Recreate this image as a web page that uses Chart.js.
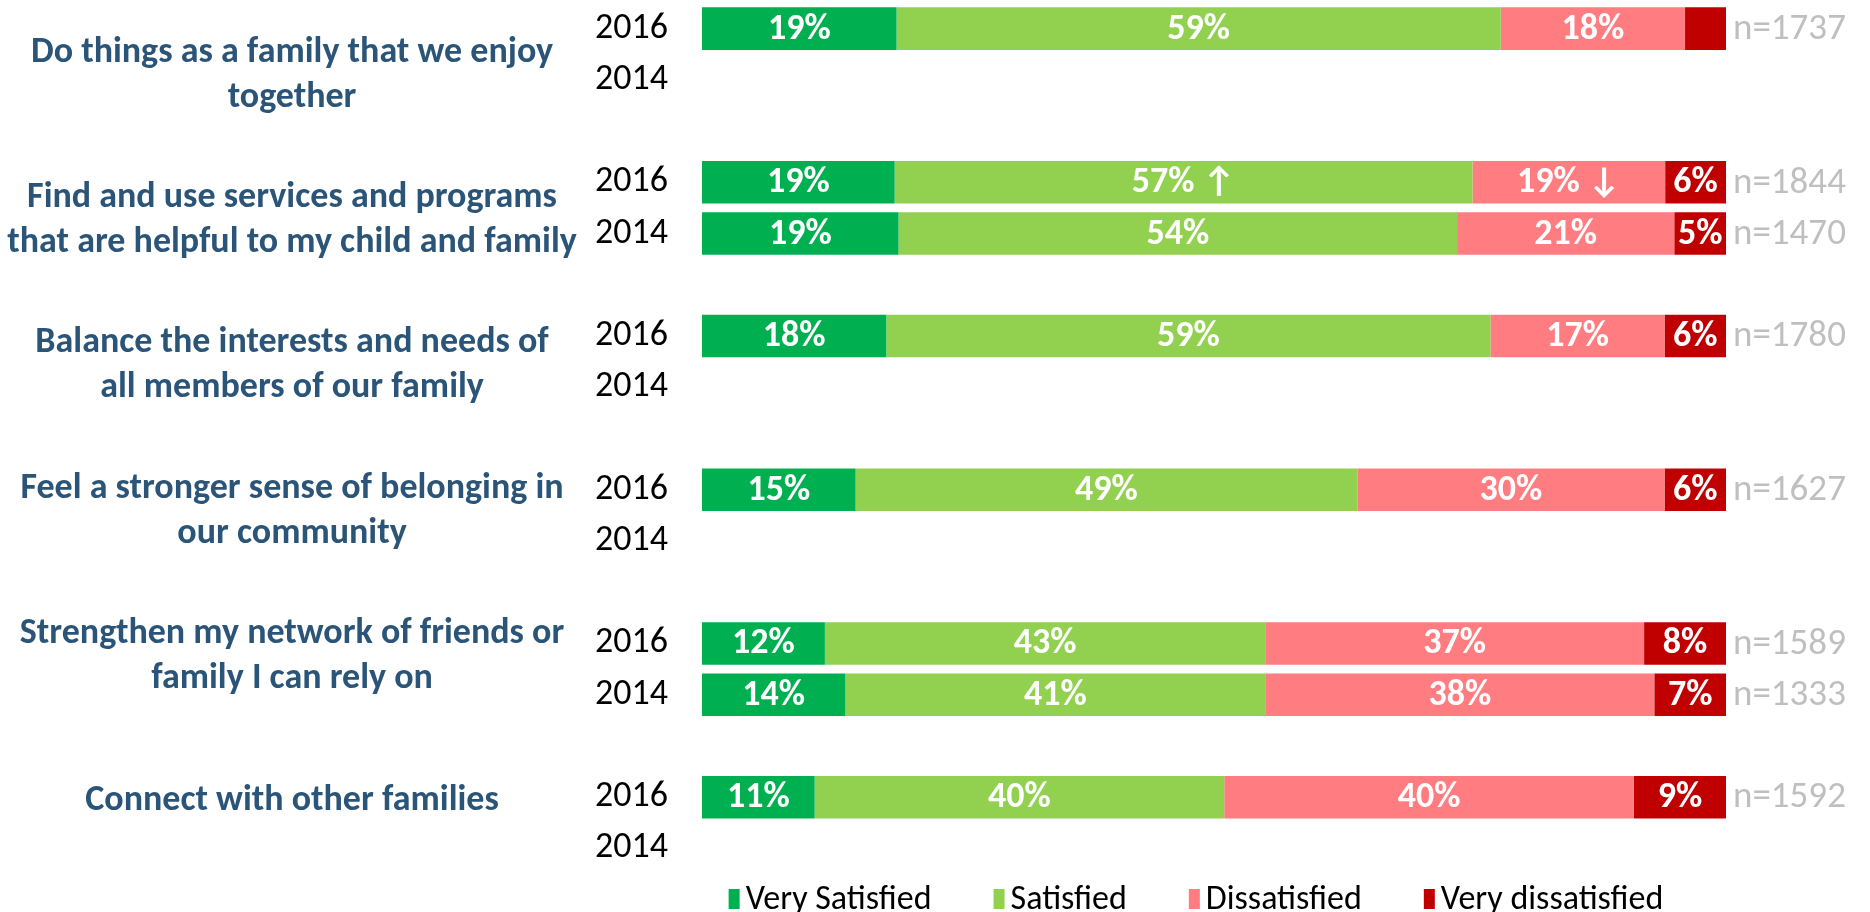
<!DOCTYPE html>
<html>
<head>
<meta charset="utf-8">
<script src="https://cdn.jsdelivr.net/npm/chart.js"></script>
<style>
html, body { margin: 0; padding: 0; background: #fff; }
#wrap { width: 1870px; height: 912px; position: relative; }
</style>
</head>
<body>
<div id="wrap"><canvas id="satisfactionChart"></canvas></div>
<script>
var FONT = "Carlito, Lato, sans-serif";

var questions = [
	['Do things as a family that we enjoy', 'together'],
	['Find and use services and programs', 'that are helpful to my child and family'],
	['Balance the interests and needs of', 'all members of our family'],
	['Feel a stronger sense of belonging in', 'our community'],
	['Strengthen my network of friends or', 'family I can rely on'],
	['Connect with other families']
];
var years = ['2016', '2014'];
var seriesNames = ['Very Satisfied', 'Satisfied', 'Dissatisfied', 'Very dissatisfied'];
var seriesColors = ['#00B050', '#92D050', '#FF7C80', '#C00000'];

// per question: [2016, 2014], null = no 2014 survey
var verySatisfied    = [[19, null], [19, 19], [18, null], [15, null], [12, 14], [11, null]];
var satisfied        = [[59, null], [57, 54], [59, null], [49, null], [43, 41], [40, null]];
var dissatisfied     = [[18, null], [19, 21], [17, null], [30, null], [37, 38], [40, null]];
var veryDissatisfied = [[4, null],  [6, 5],   [6, null],  [6, null],  [8, 7],   [9, null]];
var sampleSizes      = [[1737, null], [1844, 1470], [1780, null], [1627, null], [1589, 1333], [1592, null]];

// significant change markers
var trendMarks = [
	{question: 1, year: 0, series: 1, mark: '\u2191'},
	{question: 1, year: 0, series: 2, mark: '\u2193'}
];

var allSeries = [verySatisfied, satisfied, dissatisfied, veryDissatisfied];

// rows: 2016, 2014, blank spacer between questions
var rowLabels = [], rowRefs = [];
questions.forEach(function(q, qi){
	years.forEach(function(y, yi){
		rowLabels.push(y);
		rowRefs.push({question: qi, year: yi});
	});
	if (qi < questions.length - 1) {
		rowLabels.push('');
		rowRefs.push(null);
	}
});

function rowTotal(ref){
	var total = 0;
	allSeries.forEach(function(s){ total += s[ref.question][ref.year] || 0; });
	return total;
}

var datasets = allSeries.map(function(series, si){
	return {
		label: seriesNames[si],
		backgroundColor: seriesColors[si],
		borderWidth: 0,
		barPercentage: 0.83,
		categoryPercentage: 1,
		raw: rowRefs.map(function(ref){ return ref ? series[ref.question][ref.year] : null; }),
		data: rowRefs.map(function(ref){
			if (!ref) return null;
			var v = series[ref.question][ref.year];
			if (v == null) return null;
			return v * 100 / rowTotal(ref);
		})
	};
});

function findMark(ref, si){
	var found = trendMarks.find(function(m){
		return m.question == ref.question && m.year == ref.year && m.series == si;
	});
	return found ? found.mark : '';
}

var annotatePlugin = {
	id: 'annotate',
	afterDatasetsDraw: function(chart){
		var ctx = chart.ctx, area = chart.chartArea, yScale = chart.scales.y;
		ctx.save();

		// value labels inside the bars
		ctx.font = 'bold 36px ' + FONT;
		ctx.fillStyle = '#fff';
		ctx.textAlign = 'center';
		ctx.textBaseline = 'middle';
		chart.data.datasets.forEach(function(ds, si){
			var meta = chart.getDatasetMeta(si);
			meta.data.forEach(function(bar, i){
				var v = ds.raw[i];
				if (v == null || v < 5) return;
				var text = v + '%';
				var mark = findMark(rowRefs[i], si);
				if (mark) text += ' ' + mark;
				ctx.fillText(text, (bar.x + bar.base) / 2, bar.y + 1);
			});
		});

		// sample sizes right of the bars
		ctx.font = '37px ' + FONT;
		ctx.fillStyle = '#BFBFBF';
		ctx.textAlign = 'left';
		rowRefs.forEach(function(ref, i){
			if (!ref) return;
			var n = sampleSizes[ref.question][ref.year];
			if (n == null) return;
			ctx.fillText('n=' + n, area.right + 7, yScale.getPixelForValue(i) + 1);
		});

		// question titles, each centred in its sixth of the plot height
		ctx.font = 'bold 36px ' + FONT;
		ctx.fillStyle = '#2B5578';
		ctx.textAlign = 'center';
		var slot = (area.bottom - area.top) / questions.length;
		var lineH = 45;
		var cx = area.left * 0.416;
		questions.forEach(function(lines, qi){
			var cy = area.top + slot * (qi + 0.5);
			lines.forEach(function(line, li){
				ctx.fillText(line, cx, cy + (li - (lines.length - 1) / 2) * lineH);
			});
		});

		// legend
		ctx.font = '34px ' + FONT;
		ctx.textAlign = 'left';
		var boxW = 11, boxH = 20, textGap = 6, itemGap = 62;
		var widths = seriesNames.map(function(name){ return ctx.measureText(name).width; });
		var total = 0;
		widths.forEach(function(w){ total += boxW + textGap + w; });
		total += itemGap * (seriesNames.length - 1);
		var x = (area.left + area.right) / 2 - 18 - total / 2;
		var ly = area.bottom + 25;
		seriesNames.forEach(function(name, si){
			ctx.fillStyle = seriesColors[si];
			ctx.fillRect(x, ly - boxH / 2, boxW, boxH);
			ctx.fillStyle = '#000';
			ctx.fillText(name, x + boxW + textGap, ly + 1);
			x += boxW + textGap + widths[si] + itemGap;
		});

		ctx.restore();
	}
};

var ctx = document.getElementById('satisfactionChart').getContext('2d');
new Chart(ctx, {
	type: 'bar',
	data: {
		labels: rowLabels,
		datasets: datasets
	},
	plugins: [annotatePlugin],
	options: {
		indexAxis: 'y',
		responsive: true,
		maintainAspectRatio: false,
		animation: false,
		layout: {padding: {top: 3, right: 144, bottom: 38, left: 0}},
		plugins: {
			legend: {display: false},
			tooltip: {enabled: false}
		},
		scales: {
			x: {
				stacked: true,
				display: false,
				min: 0,
				max: 100
			},
			y: {
				stacked: true,
				grid: {display: false, drawTicks: false},
				border: {display: false},
				ticks: {
					padding: 34,
					color: '#000',
					font: {family: FONT, size: 36}
				},
				afterFit: function(scale){
					scale.width = 702;
					scale.paddingTop = 0;
					scale.paddingBottom = 0;
				}
			}
		}
	}
});
</script>
</body>
</html>
